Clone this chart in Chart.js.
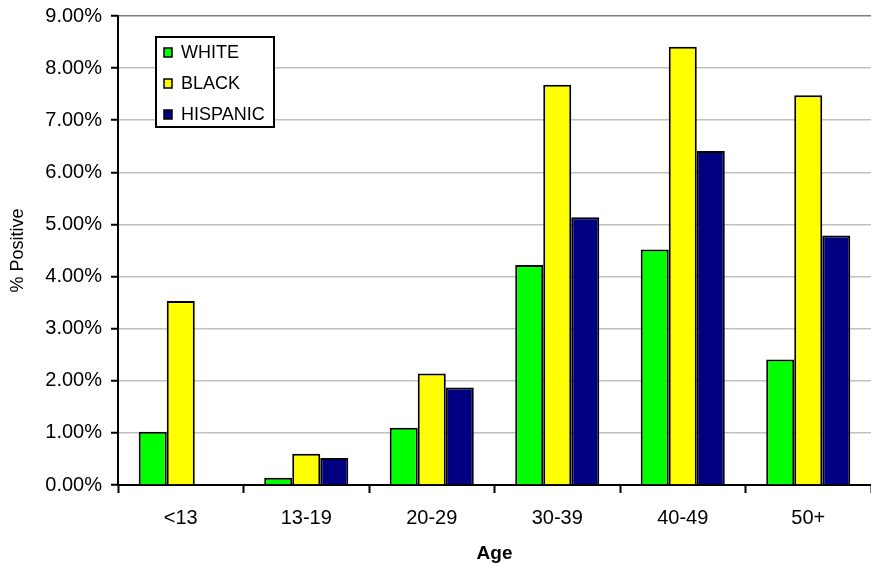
<!DOCTYPE html>
<html>
<head>
<meta charset="utf-8">
<title>% Positive by Age</title>
<script src="https://cdn.jsdelivr.net/npm/chart.js@4.4.1/dist/chart.umd.min.js"></script>
<style>
  body { margin: 0; background: #fff; }
  canvas { display: block; }
</style>
</head>
<body>
<canvas id="myChart" width="871" height="569"></canvas>
<script>
// values, in percent
var ageGroups = ["<13", "13-19", "20-29", "30-39", "40-49", "50+"];
var white    = [1.02, 0.14, 1.10, 4.22, 4.52, 2.41];
var black    = [3.53, 0.60, 2.14, 7.68, 8.41, 7.48];
var hispanic = [0,    0.52, 1.87, 5.14, 6.41, 4.79];

var FONT = "'Liberation Sans', Arial, sans-serif";

// legend box drawn inside the plot, like the original
var boxLegend = {
	id: 'boxLegend',
	afterDraw: function(chart) {
		var c = chart.ctx;
		var x = 156, y = 37, w = 118, h = 90;
		c.save();
		c.fillStyle = '#fff';
		c.fillRect(x, y, w, h);
		c.strokeStyle = '#000';
		c.lineWidth = 2;
		c.strokeRect(x, y, w, h);
		c.font = '18px ' + FONT;
		c.textBaseline = 'middle';
		chart.data.datasets.forEach(function(ds, i) {
			var cy = y + 15 + i * 31;
			c.fillStyle = ds.backgroundColor;
			c.fillRect(164, cy - 4, 8, 9);
			c.lineWidth = 1.5;
			c.strokeRect(164, cy - 4, 8, 9);
			c.fillStyle = '#000';
			c.fillText(ds.label, 181, cy + 1);
		});
		c.restore();
	}
};

var ctx = document.getElementById('myChart').getContext('2d');

var data = {
	labels: ageGroups,
	datasets: [
		{ label: "WHITE", backgroundColor: "#00ff00", data: white },
		{ label: "BLACK", backgroundColor: "#ffff00", data: black },
		{ label: "HISPANIC", backgroundColor: "#000080", data: hispanic }
	]
};
data.datasets.forEach(function(ds) {
	ds.borderColor = '#000';
	ds.borderWidth = 2;
	ds.categoryPercentage = 0.67;
	ds.barPercentage = 1.0;
});

var myChart = new Chart(ctx, {
	type: 'bar',
	data: data,
	plugins: [boxLegend],
	options: {
		responsive: false,
		animation: false,
		layout: { padding: { top: 16, right: 0, left: 0, bottom: 0 } },
		plugins: {
			legend: { display: false },
			tooltip: { enabled: false }
		},
		scales: {
			x: {
				afterFit: function(s) { s.height = 84; s.paddingLeft = 0; s.paddingRight = 0; },
				grid: { display: true, drawOnChartArea: false, tickLength: 8, tickColor: '#000', tickWidth: 2, offset: true },
				border: { display: true, color: '#000', width: 2 },
				ticks: { color: '#000', font: { family: FONT, size: 20 }, padding: 13, maxRotation: 0 },
				title: { display: true, text: 'Age', color: '#000', font: { family: FONT, size: 19, weight: 'bold' }, padding: { top: 0, bottom: 4 } }
			},
			y: {
				min: 0,
				max: 9,
				afterFit: function(s) { s.width = 118; s.paddingTop = 0; s.paddingBottom = 0; },
				grid: {
					color: function(c) { return c.tick && c.tick.value === 9 ? '#808080' : '#c0c0c0'; },
					lineWidth: 1.5,
					tickLength: 7,
					tickColor: '#000',
					tickWidth: 2
				},
				border: { display: true, color: '#000', width: 2 },
				ticks: {
					stepSize: 1,
					color: '#000',
					padding: 9,
					font: { family: FONT, size: 20 },
					callback: function(v) { return v.toFixed(2) + '%'; }
				},
				title: { display: true, text: '% Positive', color: '#000', font: { family: FONT, size: 18 }, padding: { top: 7, bottom: 0 } }
			}
		}
	}
});
</script>
</body>
</html>
